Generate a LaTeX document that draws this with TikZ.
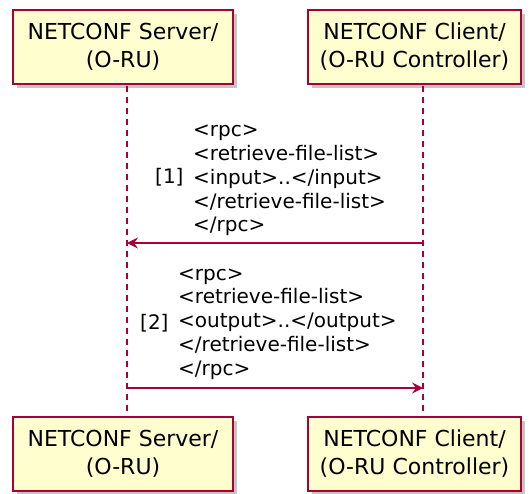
\documentclass[tikz,border=0pt]{standalone}
\usepackage{fontspec}
\setmainfont{DejaVu Sans}
\usetikzlibrary{arrows.meta,shadows}
\definecolor{pborder}{HTML}{A80036}
\definecolor{pfill}{HTML}{FEFECE}
\begin{document}
\begin{tikzpicture}[x=1pt,y=-1pt,
  participant/.style={draw=pborder, line width=1.5pt, fill=pfill, minimum height=74pt,
    align=center, inner sep=0pt, font=\fontsize{22}{28}\selectfont,
    drop shadow={shadow xshift=4pt, shadow yshift=-4pt, fill=black!45, opacity=.5}},
  lifeline/.style={draw=pborder, line width=1.2pt, dash pattern=on 6pt off 5pt},
  msg/.style={draw=pborder, line width=1.3pt, -{Stealth[length=11pt,width=11pt,inset=4pt]}},
  msgtext/.style={align=left, inner sep=0pt, anchor=base west, font=\fontsize{20}{23.75}\selectfont},
  numtext/.style={inner sep=0pt, anchor=base west, font=\fontsize{20}{23.75}\selectfont}]
\useasboundingbox (0,0) rectangle (530,494);
% participants
\node[participant, minimum width=220pt] (srvtop) at (123,47) {NETCONF Server/\\(O-RU)};
\node[participant, minimum width=213pt] (clitop) at (414.5,47) {NETCONF Client/\\(O-RU Controller)};
\node[participant, minimum width=220pt] (srvbot) at (123,454) {NETCONF Server/\\(O-RU)};
\node[participant, minimum width=213pt] (clibot) at (414.5,454) {NETCONF Client/\\(O-RU Controller)};
% lifeline coordinates
\coordinate (sA) at (127,86);
\coordinate (sB) at (127,417);
\coordinate (cA) at (423,86);
\coordinate (cB) at (423,417);
\coordinate (m1c) at (423,243);
\coordinate (m1s) at (127,243);
\coordinate (m2s) at (127,388);
\coordinate (m2c) at (423,388);
\draw[lifeline] (sA) -- (sB);
\draw[lifeline] (cA) -- (cB);
% message 1 (base anchor = baseline of last line)
\node[numtext] (n1) at (155,184) {[1]};
\node[msgtext] (t1) at (193,232) {<rpc>\\<retrieve-file-list>\\<input>..</input>\\</retrieve-file-list>\\</rpc>};
\draw[msg] (m1c) -- (m1s);
% message 2
\node[numtext] (n2) at (140,329) {[2]};
\node[msgtext] (t2) at (178,375) {<rpc>\\<retrieve-file-list>\\<output>..</output>\\</retrieve-file-list>\\</rpc>};
\draw[msg] (m2s) -- (m2c);
\end{tikzpicture}
\end{document}
